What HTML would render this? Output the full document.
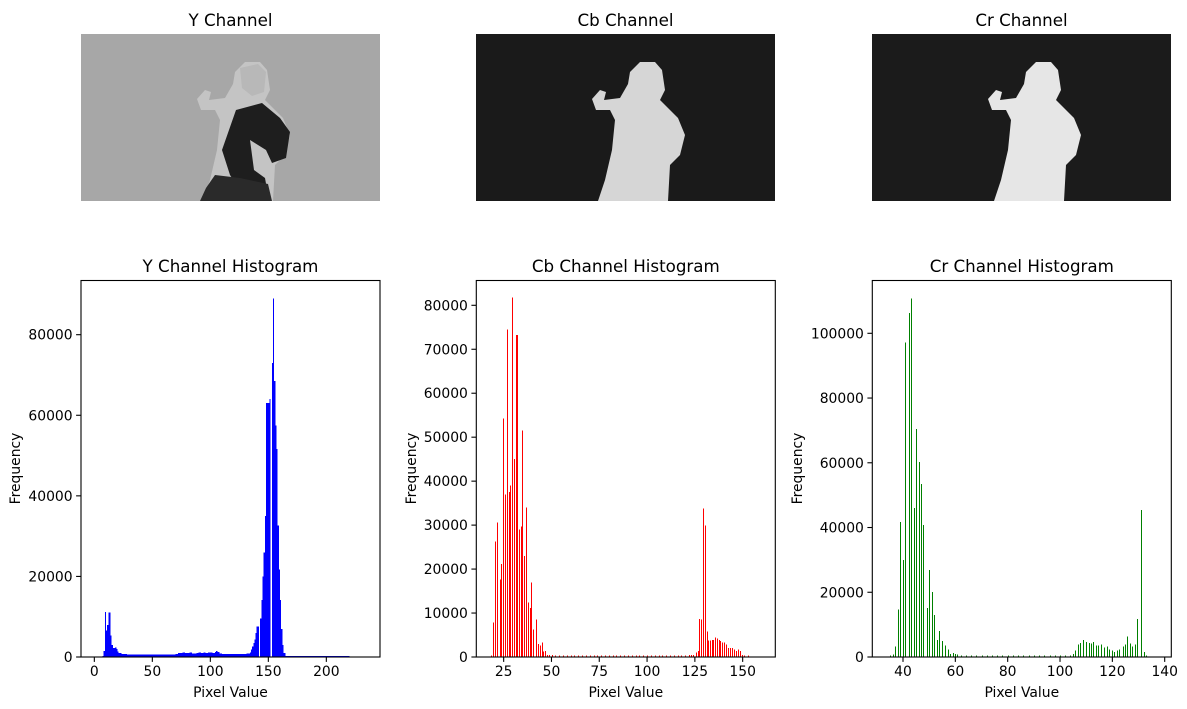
<!DOCTYPE html>
<html><head><meta charset="utf-8"><style>
html,body{margin:0;padding:0;background:#fff;width:1187px;height:709px;overflow:hidden}
svg{display:block;font-family:"DejaVu Sans","Liberation Sans",sans-serif}
</style></head><body>
<svg id="fig" width="1187" height="709" viewBox="0 0 1187 709" xmlns="http://www.w3.org/2000/svg">
<rect width="1187" height="709" fill="#fff"/>
<g>
<text x="230.5" y="26" font-size="16.7" text-anchor="middle">Y Channel</text>
<svg x="81" y="34" width="299" height="167" viewBox="81 34 299 167">
<rect x="81" y="34" width="299" height="167" fill="#a7a7a7"/>
<polygon fill="#c4c4c4" points="197,99 205,90 211,92 209,100 225,98 233,84 235,72 245,62 260,62 267,70 270,90 265,100 283,118 290,135 285,155 275,165 273,201 203,201 210,180 217,150 220,120 215,110 201,110"/>
<polygon fill="#1e1e1e" points="236,110 262,103 280,118 290,132 286,158 272,163 266,150 250,140 254,170 265,178 268,195 240,190 230,175 222,150"/>
<polygon fill="#2a2a2a" points="215,175 240,178 268,184 272,201 200,201 206,188"/>
<polygon fill="#b8b8b8" points="240,68 258,64 266,72 264,92 252,96 242,88"/>
</svg>
</g>
<g>
<text x="625.5" y="26" font-size="16.7" text-anchor="middle">Cb Channel</text>
<svg x="476" y="34" width="299" height="167" viewBox="476 34 299 167">
<rect x="476" y="34" width="299" height="167" fill="#1a1a1a"/>
<polygon fill="#d6d6d6" points="592,99 600,90 606,92 604,100 620,98 628,84 630,72 640,62 655,62 662,70 665,90 660,100 678,118 685,135 680,155 670,165 668,201 598,201 605,180 612,150 615,120 610,110 596,110"/>
</svg>
</g>
<g>
<text x="1021.5" y="26" font-size="16.7" text-anchor="middle">Cr Channel</text>
<svg x="872" y="34" width="299" height="167" viewBox="872 34 299 167">
<rect x="872" y="34" width="299" height="167" fill="#1b1b1b"/>
<polygon fill="#e6e6e6" points="988,99 996,90 1002,92 1000,100 1016,98 1024,84 1026,72 1036,62 1051,62 1058,70 1061,90 1056,100 1074,118 1081,135 1076,155 1066,165 1064,201 994,201 1001,180 1008,150 1011,120 1006,110 992,110"/>
</svg>
</g>
<g id="plots"></g>
</svg>
<script>
// ---- Y channel histogram data ----
const yBins = [0,1,2,3,4,5,6,7,8,9,10,11,12,13,14,15,16,17,18,19,20,21,22,23,24,25,26,27,28,29,30,35,40,45,50,55,60,65,70,72,74,76,78,80,82,84,86,88,90,92,94,96,98,100,102,104,105,106,108,110,115,120,125,126,127,128,129,130,131,132,133,134,135,136,137,138,139,140,141,142,143,144,145,146,147,148,149,150,151,152,153,154,155,156,157,158,159,160,161,162,163,164,165,170,175,180,185,190,195,200,205,210,215,219];
const yCounts = [0,0,0,0,0,0,0,300,1500,11200,6600,8000,11000,11000,5300,3000,2200,2200,2300,2000,1400,1000,1000,900,800,800,700,700,600,600,600,600,600,600,600,600,600,600,800,1000,1000,1100,1000,1000,1100,900,900,1000,1100,1000,1100,1000,1100,1100,1000,1300,1500,1200,900,700,700,700,700,700,700,700,800,800,900,900,900,1100,1800,2600,3500,4300,6000,7600,7600,0,9600,14200,20000,26000,35000,63000,63000,63000,64000,0,73000,89000,68500,57500,51600,32600,21700,14200,7000,3000,1000,1000,300,300,300,300,300,300,300,300,300,300,300,300,0];
const yTicksX = [0,50,100,150,200];
const yTicksY = [0,20000,40000,60000,80000];
// ---- Cb channel histogram data ----
const cbBins = [18.5,19.6,20.6,21.7,23.3,23.8,24.7,25.7,26.9,28,28.5,29.5,30.6,31.6,32,33.2,34.2,34.8,35.8,36.9,37.9,38.9,39.5,40.5,42.1,43.1,44.2,45.2,45.7,46.8,47.8,48.8,50.5,52,54,56,58,60,62,64,66,68,70,72,74,76,78,80,82,84,86,88,90,92,94,96,98,100,102,104,106,108,110,112,114,116,118,120,122,123,124,125.8,126.8,127.3,128.4,129.4,130.5,131.5,132,133,134.1,134.7,135.7,136.8,137.8,138.3,139.4,140.4,141.5,142.5,143.5,144.6,145.6,146.7,147.7,148.8,149.8,150.8,153];
const cbCounts = [300,7900,26300,30600,17600,21200,54300,37000,74500,37500,39000,81800,45000,73200,73200,29000,29700,51500,23000,34000,12400,11200,16900,6200,8500,3000,2600,3300,1300,1400,500,500,500,300,300,300,300,300,300,300,300,300,300,300,300,300,300,300,300,300,300,300,300,300,300,300,300,300,300,300,300,300,300,300,300,300,300,300,500,500,500,1000,1400,8700,8500,33800,29900,5800,3700,3800,3900,3900,4400,4200,3900,3600,3300,3300,2800,2100,2100,2100,1700,1400,1700,1400,500,300,300];
const cbTicksX = [25,50,75,100,125,150];
const cbTicksY = [0,10000,20000,30000,40000,50000,60000,70000,80000];
// ---- Cr channel histogram data ----
const crBins = [35.2,36.3,37.1,38.2,39,40.1,40.9,42.4,43.2,44.3,45.1,46.2,47,47.8,49.3,50.1,51.2,52,53.1,53.9,55,56.2,57.3,58.1,59.2,60,60.8,62,64,66,68,70,72,74,76,78,80,82,84,86,88,90,92,94,96,98,100,102,104,105.1,105.9,107,107.8,108.9,110,111.2,112,112.7,113.9,114.6,115.8,116.9,118.1,118.9,120,120.8,121.9,122.7,124.2,125,125.7,126.9,127.6,128.8,129.6,131.1,131.9,133];
const crCounts = [400,700,3300,14600,41700,30000,97200,106200,110800,46000,70400,60200,53500,40800,15200,26900,20100,13000,5300,8100,5000,3500,2300,1000,1300,1000,700,400,400,400,400,400,400,400,400,400,400,400,400,400,400,400,400,400,400,400,400,400,400,1000,2000,3800,4400,5300,4700,4400,4100,4700,3500,3500,3800,2900,3200,2300,2000,1600,2000,2300,3200,3800,6300,4100,3200,3800,11800,45400,1600,400];
const crTicksX = [40,60,80,100,120,140];
const crTicksY = [0,20000,40000,60000,80000,100000];

const NS = "http://www.w3.org/2000/svg";
const plots = document.getElementById('plots');
function mk(tag, attrs, parent){
  const e = document.createElementNS(NS, tag);
  for (const k in attrs) e.setAttribute(k, attrs[k]);
  parent.appendChild(e);
  return e;
}
function drawHist(o){
  const g = mk('g', {}, plots);
  
  
  const L=o.left, T=280.5, B=657;
  const sx = v => o.x0 + (v - o.v0) * o.k;
  const sy = c => B - c * o.ky;
  const bars = mk('g', {'shape-rendering': 'crispEdges'}, g);
  
  
  for (let i=0;i<o.bins.length;i++){
    const h = B - sy(o.counts[i]);
    if (h<=0) continue;
    let x, w;
    if (o.contig) {
      const nxt = i+1 < o.bins.length ? o.bins[i+1] : o.bins[i]+1;
      x = sx(o.bins[i]);
      w = (nxt - o.bins[i]) * o.k;
    } else {
      x = Math.round(sx(o.bins[i]));
      w = 1;
    }
    const r = mk('rect', {x: x, y: sy(o.counts[i]), width: w, height: h, fill: o.color}, bars);
    
    
  }
  const frame = mk('rect', {x:L, y:T, width:299, height:B-T, fill:'none', stroke:'#000', 'stroke-width':1.1}, g);
  
  
  for (const v of o.tx){
    const x = sx(v);
    mk('line', {x1:x, x2:x, y1:B, y2:B+4.9, stroke:'#000', 'stroke-width':1.1}, g);
    const t = mk('text', {x:x, y:B+19, 'font-size':13.9, 'text-anchor':'middle'}, g);
    t.textContent = v;
    
    
  }
  for (const c of o.ty){
    const y = sy(c);
    mk('line', {x1:L-4.9, x2:L, y1:y, y2:y, stroke:'#000', 'stroke-width':1.1}, g);
    const t = mk('text', {x:L-8.4, y:y+5, 'font-size':13.9, 'text-anchor':'end'}, g);
    t.textContent = c;
    
    
  }
  const xl = mk('text', {x:L+149.5, y:697, 'font-size':13.9, 'text-anchor':'middle'}, g);
  xl.textContent = 'Pixel Value';
  
  
  const yl = mk('text', {x:0, y:0, 'font-size':13.9, 'text-anchor':'middle', transform:`translate(${o.ylx},468.5) rotate(-90)`}, g);
  yl.textContent = 'Frequency';
  
  
  const tt = mk('text', {x:L+149.5, y:272, 'font-size':16.7, 'text-anchor':'middle'}, g);
  tt.textContent = o.title;
  
  
}
drawHist({name:'y-histogram', title:'Y Channel Histogram', left:81, x0:94.33, v0:0, k:1.16, ky:322.3/80000, bins:yBins, counts:yCounts, contig:true, color:'#0000ff', tx:yTicksX, ty:yTicksY, ylx:20});
drawHist({name:'cb-histogram', title:'Cb Channel Histogram', left:476.3, x0:503.67, v0:25, k:1.912, ky:351.7/80000, bins:cbBins, counts:cbCounts, color:'#ff0000', tx:cbTicksX, ty:cbTicksY, ylx:416});
drawHist({name:'cr-histogram', title:'Cr Channel Histogram', left:872.3, x0:903, v0:40, k:2.617, ky:323.7/100000, bins:crBins, counts:crCounts, color:'#008000', tx:crTicksX, ty:crTicksY, ylx:802});
</script>
</body></html>
